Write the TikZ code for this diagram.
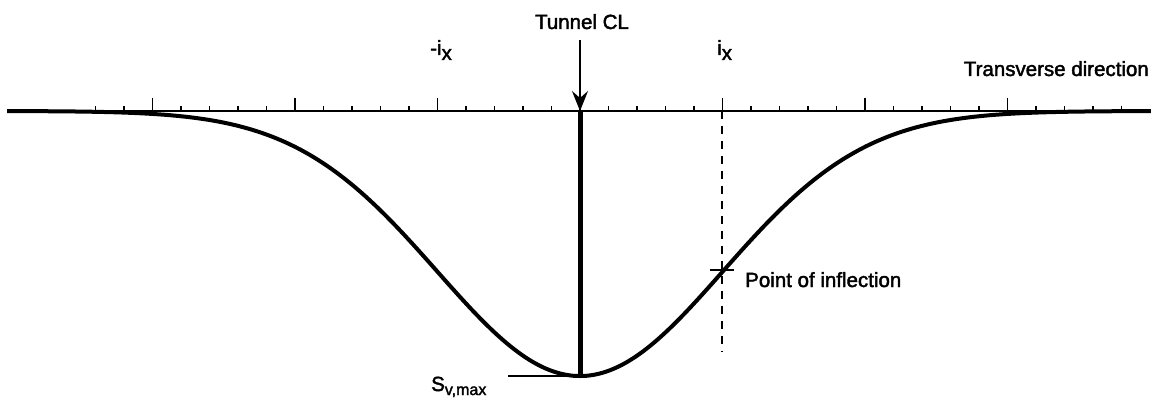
\documentclass[tikz,border=0pt]{standalone}
\usepackage{fontspec}
\setmainfont{Liberation Sans}[FakeBold=2]
\usetikzlibrary{arrows.meta,calc}
\tikzset{
  lbl/.style={inner sep=0pt, font=\fontsize{20.5}{22}\selectfont},
  axisline/.style={line width=2pt},
  curveline/.style={line width=4pt, line join=round},
  minortick/.style={line width=1.3pt},
  majortick/.style={line width=1.5pt},
}
\begin{document}
\begin{tikzpicture}[x=1pt,y=-1pt]
\useasboundingbox (0,0) rectangle (1151,404);
% key points
\coordinate (L) at (8,111);
\coordinate (R) at (1151,111);
\coordinate (C) at (580,111);
\coordinate (B) at (580,376);
\coordinate (IX) at (722,111);
\coordinate (IXb) at (722,352);
\coordinate (IP) at (722,270);
\coordinate (A0) at (580,40);
% axis
\draw[axisline] (L) -- (R);
% minor ticks
\foreach \k in {-17,...,19} {
  \draw[minortick] ({580+28.5*\k},111) -- ++(0,-5);
}
% major ticks
\foreach \k in {-3,...,3} {
  \draw[majortick] ({580+142.5*\k},111) -- ++(0,-13);
}
% settlement trough
\draw[curveline] plot[domain=-4.02:4.02, samples=241, smooth] ({580+142.5*\x},{111+265*exp(-0.5*\x*\x)});
% centre line
\draw[line width=5pt] (C) -- (B);
% dashed line at i_x
\draw[line width=1.4pt, dash pattern=on 8pt off 7pt] (IX) -- (IXb);
% inflection mark
\draw[line width=1.5pt] ($(IP)+(-12,0)$) -- ($(IP)+(12,0)$);
% S_v,max leader
\coordinate (SL) at (508,376);
\draw[line width=1.3pt] (SL) -- (B);
% labels
\node[lbl, anchor=base] (tcl) at (582,29) {Tunnel CL};
\draw[line width=1.2pt, -{Stealth[length=20pt,width=16pt,inset=7pt]}] (A0) -- (C);
\node[lbl, anchor=base west] (mix) at (430,55) {-i\raisebox{-5pt}{x}};
\node[lbl, anchor=base west] (pix) at (717,55) {i\raisebox{-5pt}{x}};
\node[lbl, anchor=base east] (td) at (1149,76) {Transverse direction};
\node[lbl, anchor=base west] (poi) at (745,287) {Point of inflection};
\node[lbl, anchor=base west] (sv) at (431,391) {S\raisebox{-4pt}{\fontsize{16}{18}\selectfont v,max}};
\end{tikzpicture}
\end{document}
